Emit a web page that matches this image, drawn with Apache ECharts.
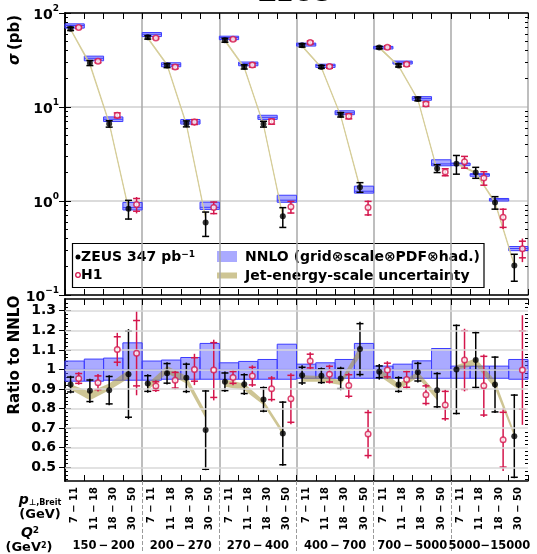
<!DOCTYPE html>
<html>
<head>
<meta charset="utf-8">
<script src="https://cdn.jsdelivr.net/npm/echarts@6.0.0/dist/echarts.min.js"></script>
<style>
html, body { margin: 0; padding: 0; background: #fff; }
#chart { width: 537px; height: 554px; }
</style>
</head>
<body>
<div id="chart"></div>
<script>
// ---- binning ----
const ptBins = ['7 − 11', '11 − 18', '18 − 30', '30 − 50'];
const q2Bins = ['150 − 200', '200 − 270', '270 − 400', '400 − 700', '700 − 5000', '5000−15000'];

// ---- NNLO prediction (pb) and its relative uncertainty ----
const nnlo   = [73.5, 33.0, 7.41, 0.85,   59.4, 28.2, 6.93, 0.857,  54.8, 28.9, 7.77, 1.02,
                46.6, 27.6, 8.67, 1.27,   43.4, 30.0, 12.35, 2.48,  2.49, 1.92, 1.046, 0.312];
const nnloUp = [0.043, 0.053, 0.058, 0.136, 0.043, 0.048, 0.061, 0.133, 0.034, 0.041, 0.051, 0.129,
                0.027, 0.034, 0.051, 0.133, 0.017, 0.027, 0.044, 0.107, 0.017, 0.017, 0.017, 0.051];
const nnloDn = [0.060, 0.060, 0.055, 0.055, 0.055, 0.050, 0.050, 0.050, 0.050, 0.050, 0.050, 0.050,
                0.045, 0.045, 0.045, 0.045, 0.045, 0.045, 0.045, 0.045, 0.045, 0.045, 0.045, 0.050];

// ---- ZEUS: ratio to NNLO, statistical and total uncertainty ----
const zeusRatio = [0.923, 0.891, 0.894, 0.976, 0.928, 0.980, 0.957, 0.690, 0.937, 0.925, 0.847, 0.673,
                   0.971, 0.968, 0.954, 1.104, 0.988, 0.923, 0.986, 0.894, 1.000, 1.048, 0.923, 0.659];
const zeusStat  = [0.038, 0.055, 0.070, 0.220, 0.040, 0.050, 0.070, 0.200, 0.045, 0.048, 0.060, 0.160,
                   0.040, 0.035, 0.052, 0.130, 0.030, 0.035, 0.045, 0.085, 0.225, 0.140, 0.140, 0.210];
const zeusTot   = [0.045, 0.062, 0.077, 0.230, 0.047, 0.057, 0.078, 0.205, 0.052, 0.055, 0.066, 0.165,
                   0.050, 0.042, 0.060, 0.140, 0.040, 0.042, 0.053, 0.092, 0.230, 0.147, 0.145, 0.215];

// ---- H1: ratio to NNLO, statistical and total uncertainty ----
const h1Ratio = [0.954, 0.932, 1.102, 1.083, 0.915, 0.945, 1.000, 0.997, 0.959, 0.966, 0.901, 0.850,
                 1.043, 0.976, 0.918, 0.670, 0.997, 0.949, 0.871, 0.818, 1.048, 0.917, 0.641, 0.997];
const h1Stat  = [0.025, 0.035, 0.065, 0.167, 0.022, 0.040, 0.060, 0.140, 0.030, 0.045, 0.055, 0.120,
                 0.035, 0.040, 0.055, 0.110, 0.035, 0.040, 0.045, 0.070, 0.150, 0.150, 0.140, 0.200];
const h1Tot   = [0.032, 0.045, 0.085, 0.215, 0.030, 0.048, 0.080, 0.155, 0.040, 0.055, 0.065, 0.130,
                 0.045, 0.048, 0.065, 0.125, 0.045, 0.048, 0.055, 0.080, 0.160, 0.160, 0.160, 0.280];

// ---- jet-energy-scale uncertainty band (ratio units) ----
const jesLo = [0.898, 0.843, 0.894, 0.954, 0.894, 0.980, 0.928, 0.750, 0.911, 0.894, 0.818, 0.665,
               0.937, 0.937, 0.920, 1.065, 0.966, 0.898, 0.959, 0.843, 0.997, 1.022, 0.903, 0.656];
const jesHi = [0.925, 0.886, 0.928, 0.997, 0.928, 1.017, 0.966, 0.784, 0.949, 0.928, 0.843, 0.690,
               0.971, 0.966, 0.945, 1.116, 1.005, 0.928, 0.988, 0.874, 1.022, 1.056, 0.945, 0.681];

// ---- axis ticks ----
const logMajor = [0.1, 1, 10, 100];
const logMinor = [0.2, 0.3, 0.4, 0.5, 0.6, 0.7, 0.8, 0.9, 2, 3, 4, 5, 6, 7, 8, 9, 20, 30, 40, 50, 60, 70, 80, 90];
const ratioTicks = [0.5, 0.6, 0.7, 0.8, 0.9, 1.0, 1.1, 1.2, 1.3];
const ratioMinor = [0.44, 0.46, 0.48, 0.52, 0.54, 0.56, 0.58, 0.62, 0.64, 0.66, 0.68, 0.72, 0.74, 0.76, 0.78,
                    0.82, 0.84, 0.86, 0.88, 0.92, 0.94, 0.96, 0.98, 1.02, 1.04, 1.06, 1.08, 1.12, 1.14, 1.16, 1.18,
                    1.22, 1.24, 1.26, 1.28, 1.32, 1.34];

// ---- styling ----
const FONT = 'DejaVu Sans';
const BLUE_FILL = 'rgba(85,85,255,0.5)';
const BLUE_EDGE = '#3c3cff';
const JES_FILL = 'rgba(165,150,60,0.55)';
const JES_LINE = '#d3ca93';
const H1_RED = '#d4164c';
const ZX = 0.29;   // ZEUS marker offset within a bin
const HX = 0.71;   // H1 marker offset within a bin
const nBins = nnlo.length;

const chart = echarts.init(document.getElementById('chart'), null, { renderer: 'canvas' });

// rows for the boxes: [binLeft, low, high, centre]
function boxRows(scaleByNnlo) {
  return nnlo.map((n, i) => {
    const s = scaleByNnlo ? n : 1;
    return [i, s * (1 - nnloDn[i]), s * (1 + nnloUp[i]), s];
  });
}
// rows for a measurement: [x, value, stat, total]
function pointRows(ratio, stat, tot, off, scaleByNnlo) {
  return ratio.map((r, i) => {
    const s = scaleByNnlo ? nnlo[i] : 1;
    return [i + off, s * r, s * stat[i], s * tot[i]];
  });
}
// rows for the JES band: one row per Q2 group, flattened [x, lo, hi] triplets
function bandRows(scaleByNnlo) {
  return q2Bins.map((q, g) => {
    const row = [];
    for (let k = 0; k < ptBins.length; k++) {
      const i = g * ptBins.length + k;
      const s = scaleByNnlo ? nnlo[i] : 1;
      row.push(i + ZX, s * jesLo[i], s * jesHi[i]);
    }
    return row;
  });
}

function renderBox(params, api) {
  const x0 = api.value(0), lo = api.value(1), hi = api.value(2), c = api.value(3);
  const pHi = api.coord([x0, hi]);
  const pLo = api.coord([x0 + 1, lo]);
  const pC = api.coord([x0, c]);
  return {
    type: 'group',
    children: [
      { type: 'rect', shape: { x: pHi[0], y: pHi[1], width: pLo[0] - pHi[0], height: pLo[1] - pHi[1] },
        style: { fill: BLUE_FILL, stroke: BLUE_EDGE, lineWidth: 1 } },
      { type: 'line', shape: { x1: pHi[0], y1: pC[1], x2: pLo[0], y2: pC[1] },
        style: { stroke: BLUE_EDGE, lineWidth: 1 } }
    ]
  };
}

function renderErr(color) {
  return function (params, api) {
    const x = api.value(0), v = api.value(1), s = api.value(2), t = api.value(3);
    const tT = api.coord([x, v + t]), tB = api.coord([x, v - t]);
    const sT = api.coord([x, v + s]), sB = api.coord([x, v - s]);
    const cap = 3.5;
    const st = { stroke: color, lineWidth: 1.5 };
    return {
      type: 'group',
      children: [
        { type: 'line', shape: { x1: tT[0], y1: tT[1], x2: tB[0], y2: tB[1] }, style: st },
        { type: 'line', shape: { x1: sT[0] - cap, y1: sT[1], x2: sT[0] + cap, y2: sT[1] }, style: st },
        { type: 'line', shape: { x1: sB[0] - cap, y1: sB[1], x2: sB[0] + cap, y2: sB[1] }, style: st }
      ]
    };
  };
}

function renderBand(fill, stroke, width) {
  return function (params, api) {
    const n = ptBins.length;
    const upper = [], lower = [];
    for (let k = 0; k < n; k++) {
      const x = api.value(3 * k), lo = api.value(3 * k + 1), hi = api.value(3 * k + 2);
      upper.push(api.coord([x, hi]));
      lower.unshift(api.coord([x, lo]));
    }
    return {
      type: 'polygon',
      shape: { points: upper.concat(lower) },
      style: { fill: fill, stroke: stroke, lineWidth: width }
    };
  };
}

const frameLine = { show: true, lineStyle: { color: '#000', width: 1.5 } };
const majorTick = { show: true, inside: true, length: 6, lineStyle: { color: '#000', width: 1 } };
const minorTick = { show: true, inside: true, length: 3, lineStyle: { color: '#000', width: 1 } };
const noLabel = { show: false };
const noSplit = { show: false };

function binAxis(grid, pos) {
  return { type: 'value', gridIndex: grid, position: pos, min: 0, max: nBins, interval: 1,
           axisLine: frameLine, axisTick: majorTick, axisLabel: noLabel, splitLine: noSplit };
}
function groupAxis(grid, extra) {
  return Object.assign({ type: 'value', gridIndex: grid, position: 'bottom', min: 0, max: nBins, interval: 4,
           axisLine: { show: false }, axisTick: { show: false }, axisLabel: noLabel,
           splitLine: { show: true, lineStyle: { color: '#a8a8a8', width: 1.5 } } }, extra || {});
}

const supFmt = v => {
  const e = Math.round(Math.log10(v));
  return '{b|10}{s|' + (e < 0 ? '−' + (-e) : e) + '}';
};

const option = {
  animation: false,
  textStyle: { fontFamily: FONT },
  grid: [
    { left: 65, top: 13, width: 463, height: 282 },
    { left: 65, top: 299, width: 463, height: 182 }
  ],
  xAxis: [
    binAxis(0, 'bottom'),
    binAxis(0, 'top'),
    groupAxis(0),
    binAxis(1, 'bottom'),
    binAxis(1, 'top'),
    groupAxis(1, {
      axisTick: { show: true, inside: false, length: 72, customValues: [4, 8, 12, 16, 20],
                  lineStyle: { type: 'dashed', color: '#9a9a9a', width: 1 } }
    }),
    { type: 'category', gridIndex: 1, position: 'bottom', data: q2Bins.flatMap(() => ptBins),
      boundaryGap: true, axisLine: { show: false }, axisTick: { show: false }, splitLine: noSplit,
      axisLabel: { interval: 0, rotate: 90, margin: 6, color: '#000', fontFamily: FONT,
                   fontWeight: 'bold', fontSize: 10 } },
    { type: 'category', gridIndex: 1, position: 'bottom', offset: 59, data: q2Bins,
      boundaryGap: true, axisLine: { show: false }, axisTick: { show: false }, splitLine: noSplit,
      axisLabel: { interval: 0, margin: 0, color: '#000', fontFamily: FONT, fontWeight: 'bold', fontSize: 11.5,
                   formatter: s => s.replace(/ /g, '\u2009') } }
  ],
  yAxis: [
    { type: 'log', logBase: 10, gridIndex: 0, position: 'left', min: 0.1, max: 100,
      axisLine: frameLine, axisTick: Object.assign({}, majorTick, { customValues: logMajor }),
      axisLabel: { customValues: logMajor, formatter: supFmt, margin: 6, color: '#000',
        rich: { b: { fontFamily: FONT, fontWeight: 'bold', fontSize: 14, color: '#000', lineHeight: 18, verticalAlign: 'bottom' },
                s: { fontFamily: FONT, fontWeight: 'bold', fontSize: 9, color: '#000', lineHeight: 18, verticalAlign: 'top' } } },
      splitLine: { show: true, lineStyle: { color: '#cfcfcf', width: 1.5 } } },
    { type: 'log', logBase: 10, gridIndex: 0, position: 'right', min: 0.1, max: 100,
      axisLine: frameLine, axisTick: Object.assign({}, majorTick, { customValues: logMajor }),
      axisLabel: noLabel, splitLine: noSplit },
    { type: 'log', logBase: 10, gridIndex: 0, position: 'left', min: 0.1, max: 100,
      axisLine: { show: false }, axisTick: Object.assign({}, minorTick, { customValues: logMinor }),
      axisLabel: noLabel, splitLine: noSplit },
    { type: 'log', logBase: 10, gridIndex: 0, position: 'right', min: 0.1, max: 100,
      axisLine: { show: false }, axisTick: Object.assign({}, minorTick, { customValues: logMinor }),
      axisLabel: noLabel, splitLine: noSplit },
    { type: 'value', gridIndex: 1, position: 'left', min: 0.43, max: 1.36,
      axisLine: frameLine, axisTick: Object.assign({}, majorTick, { customValues: ratioTicks }),
      axisLabel: { customValues: ratioTicks, margin: 9, color: '#000', fontFamily: FONT, fontWeight: 'bold', fontSize: 14,
                   formatter: v => (Math.abs(v - 1) < 1e-9 ? '1' : v.toFixed(1)) },
      splitLine: noSplit },
    { type: 'value', gridIndex: 1, position: 'right', min: 0.43, max: 1.36,
      axisLine: frameLine, axisTick: Object.assign({}, majorTick, { customValues: ratioTicks }),
      axisLabel: noLabel, splitLine: noSplit },
    { type: 'value', gridIndex: 1, position: 'left', min: 0.43, max: 1.36,
      axisLine: { show: false }, axisTick: Object.assign({}, minorTick, { customValues: ratioMinor }),
      axisLabel: noLabel, splitLine: noSplit },
    { type: 'value', gridIndex: 1, position: 'right', min: 0.43, max: 1.36,
      axisLine: { show: false }, axisTick: Object.assign({}, minorTick, { customValues: ratioMinor }),
      axisLabel: noLabel, splitLine: noSplit }
  ],
  series: [
    // horizontal grid lines of the ratio panel
    { type: 'line', xAxisIndex: 3, yAxisIndex: 4, data: [], silent: true, z: 1,
      markLine: { silent: true, symbol: 'none', label: { show: false }, animation: false,
                  lineStyle: { color: '#d8d8d8', type: 'solid', width: 1.5 },
                  data: ratioTicks.map(v => ({ yAxis: v })) } },

    // ---- cross-section panel ----
    { type: 'custom', xAxisIndex: 0, yAxisIndex: 0, z: 2, renderItem: renderBox,
      data: boxRows(true), encode: { x: 0, y: [1, 2] } },
    { type: 'custom', xAxisIndex: 0, yAxisIndex: 0, z: 3, renderItem: renderBand(JES_LINE, JES_LINE, 0.8),
      data: bandRows(true), encode: { x: 0, y: 1 } },
    { type: 'custom', xAxisIndex: 0, yAxisIndex: 0, z: 4, renderItem: renderErr('#000'),
      data: pointRows(zeusRatio, zeusStat, zeusTot, ZX, true), encode: { x: 0, y: 1 } },
    { type: 'custom', xAxisIndex: 0, yAxisIndex: 0, z: 4, renderItem: renderErr(H1_RED),
      data: pointRows(h1Ratio, h1Stat, h1Tot, HX, true), encode: { x: 0, y: 1 } },
    { type: 'scatter', xAxisIndex: 0, yAxisIndex: 0, z: 5, symbol: 'circle', symbolSize: 6,
      itemStyle: { color: '#000' },
      data: pointRows(zeusRatio, zeusStat, zeusTot, ZX, true).map(r => [r[0], r[1]]) },
    { type: 'scatter', xAxisIndex: 0, yAxisIndex: 0, z: 5, symbol: 'circle', symbolSize: 5.5,
      itemStyle: { color: '#fff', borderColor: H1_RED, borderWidth: 1.5 },
      data: pointRows(h1Ratio, h1Stat, h1Tot, HX, true).map(r => [r[0], r[1]]) },

    // ---- ratio panel ----
    { type: 'custom', xAxisIndex: 3, yAxisIndex: 4, z: 2, renderItem: renderBox,
      data: boxRows(false), encode: { x: 0, y: [1, 2] } },
    { type: 'custom', xAxisIndex: 3, yAxisIndex: 4, z: 3, renderItem: renderBand(JES_FILL, null, 0),
      data: bandRows(false), encode: { x: 0, y: 1 } },
    { type: 'custom', xAxisIndex: 3, yAxisIndex: 4, z: 4, renderItem: renderErr('#000'),
      data: pointRows(zeusRatio, zeusStat, zeusTot, ZX, false), encode: { x: 0, y: 1 } },
    { type: 'custom', xAxisIndex: 3, yAxisIndex: 4, z: 4, renderItem: renderErr(H1_RED),
      data: pointRows(h1Ratio, h1Stat, h1Tot, HX, false), encode: { x: 0, y: 1 } },
    { type: 'scatter', xAxisIndex: 3, yAxisIndex: 4, z: 5, symbol: 'circle', symbolSize: 6,
      itemStyle: { color: '#000' },
      data: zeusRatio.map((r, i) => [i + ZX, r]) },
    { type: 'scatter', xAxisIndex: 3, yAxisIndex: 4, z: 5, symbol: 'circle', symbolSize: 5.5,
      itemStyle: { color: '#fff', borderColor: H1_RED, borderWidth: 1.5 },
      data: h1Ratio.map((r, i) => [i + HX, r]) }
  ],
  graphic: [
    // experiment name above the frame
    { type: 'text', z: 100, style: { text: 'ZEUS', x: 295, y: 7, fill: '#000',
      font: 'bold 25px "DejaVu Sans"', textAlign: 'center', textVerticalAlign: 'bottom' } },
    // axis titles
    { type: 'text', z: 100, x: 15, y: 40, rotation: Math.PI / 2,
      style: { text: '{i|σ} {b|(pb)}', textAlign: 'center', textVerticalAlign: 'middle',
        rich: { i: { font: 'italic bold 15px "DejaVu Sans"', fill: '#000' },
                b: { font: 'bold 15px "DejaVu Sans"', fill: '#000' } } } },
    { type: 'text', z: 100, x: 15, y: 355, rotation: Math.PI / 2,
      style: { text: 'Ratio to NNLO', fill: '#000', font: 'bold 15px "DejaVu Sans"',
        textAlign: 'center', textVerticalAlign: 'middle' } },
    // labels of the two bin variables
    { type: 'text', z: 100, style: { x: 40, y: 500, textAlign: 'center', textVerticalAlign: 'middle',
      text: '{i|p}{s|⊥,Breit}',
      rich: { i: { font: 'italic bold 14px "DejaVu Sans"', fill: '#000' },
              s: { font: 'bold 8px "DejaVu Sans"', fill: '#000', verticalAlign: 'bottom', padding: [6, 0, 0, 0] } } } },
    { type: 'text', z: 100, style: { x: 40, y: 515, text: '(GeV)', fill: '#000', font: 'bold 13px "DejaVu Sans"',
      textAlign: 'center', textVerticalAlign: 'middle' } },
    { type: 'text', z: 100, style: { x: 30, y: 533, textAlign: 'center', textVerticalAlign: 'middle',
      text: '{i|Q}{s|2}',
      rich: { i: { font: 'italic bold 14px "DejaVu Sans"', fill: '#000', verticalAlign: 'bottom' },
              s: { font: 'bold 9px "DejaVu Sans"', fill: '#000', verticalAlign: 'top' } } } },
    { type: 'text', z: 100, style: { x: 29, y: 548, textAlign: 'center', textVerticalAlign: 'middle',
      text: '{b|(GeV}{s|2}{b|)}',
      rich: { b: { font: 'bold 13px "DejaVu Sans"', fill: '#000', verticalAlign: 'bottom' },
              s: { font: 'bold 8px "DejaVu Sans"', fill: '#000', verticalAlign: 'top' } } } },
    // legend
    { type: 'group', z: 100, children: [
      { type: 'rect', shape: { x: 72.5, y: 243.5, width: 411.5, height: 44 },
        style: { fill: '#fff', stroke: '#000', lineWidth: 1.2 } },
      { type: 'circle', shape: { cx: 78, cy: 257, r: 2.5 }, style: { fill: '#000' } },
      { type: 'text', style: { x: 81, y: 257, textVerticalAlign: 'middle',
        text: '{b|ZEUS 347}{b| pb}{s|−1}',
        rich: { b: { font: 'bold 14px "DejaVu Sans"', fill: '#000', verticalAlign: 'bottom' },
                s: { font: 'bold 9px "DejaVu Sans"', fill: '#000', verticalAlign: 'top' } } } },
      { type: 'circle', shape: { cx: 78, cy: 275, r: 2.3 }, style: { fill: '#fff', stroke: H1_RED, lineWidth: 1.3 } },
      { type: 'text', style: { x: 81, y: 275.5, text: 'H1', fill: '#000', font: 'bold 14px "DejaVu Sans"',
        textVerticalAlign: 'middle' } },
      { type: 'rect', shape: { x: 217, y: 251, width: 20, height: 11 }, style: { fill: BLUE_FILL } },
      { type: 'text', style: { x: 245, y: 257, text: 'NNLO (grid⊗scale⊗PDF⊗had.)', fill: '#000',
        font: 'bold 14px "DejaVu Sans"', textVerticalAlign: 'middle' } },
      { type: 'rect', shape: { x: 217, y: 272.5, width: 20, height: 6 }, style: { fill: JES_FILL } },
      { type: 'text', style: { x: 245, y: 276, text: 'Jet-energy-scale uncertainty', fill: '#000',
        font: 'bold 14px "DejaVu Sans"', textVerticalAlign: 'middle' } }
    ] }
  ]
};

chart.setOption(option);
</script>
</body>
</html>
